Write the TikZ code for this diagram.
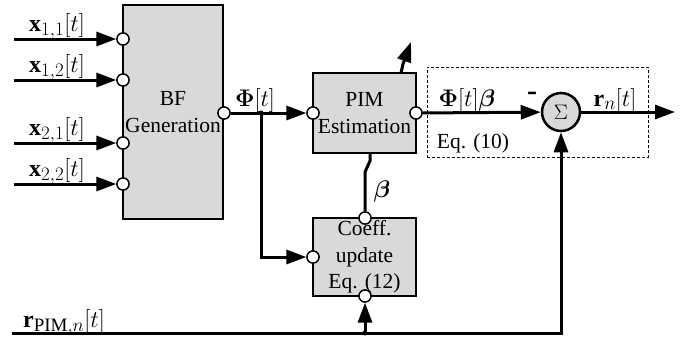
\documentclass[tikz,border=0pt]{standalone}
\usepackage{fix-cm}
\usepackage{amsmath}
\usepackage{bm}
\usepackage{fontspec}
\setmainfont{Liberation Serif}
\DeclareMathSizes{24}{24}{19}{15}
\usetikzlibrary{arrows.meta}
\definecolor{boxgray}{HTML}{D9D9D9}
\begin{document}
\begin{tikzpicture}[x=1pt,y=-1pt,
  block/.style={draw, line width=2.5pt, fill=boxgray, inner sep=0pt, align=center,
                font=\fontsize{21.5}{26.5}\selectfont},
  port/.style={circle, draw, line width=1.3pt, fill=white, minimum size=12pt, inner sep=0pt},
  wire/.style={line width=3pt},
  arr/.style={line width=3pt, -{Triangle[length=20pt,width=14pt]}},
  lbl/.style={inner sep=0pt, font=\fontsize{24}{26}\selectfont},
  txt/.style={inner sep=0pt, font=\fontsize{21.5}{24}\selectfont},
  jdot/.style={circle, fill, minimum size=5pt, inner sep=0pt}]
\useasboundingbox (0,0) rectangle (680,341);

% dashed box
\node[draw, dashed, line width=0.8pt, dash pattern=on 3pt off 2pt, minimum width=221pt,
      minimum height=90pt, inner sep=0pt] (eqbox) at (537.5,112) {};

% blocks
\node[block, minimum width=100pt, minimum height=214pt] (bf) at (173,112) {BF\\Generation};
\node[block, minimum width=103pt, minimum height=80pt] (pim) at (364.5,113) {PIM\\Estimation};
\node[block, minimum width=103pt, minimum height=78pt] (cf) at (364.5,257) {Coeff.\\update\\Eq. (12)};
\node[circle, draw, line width=2.5pt, fill=boxgray, minimum size=38pt, inner sep=0pt,
      font=\fontsize{21}{24}\selectfont] (sum) at (561,112) {$\Sigma$};

% ports
\node[port] (bfi1) at (123,39) {};
\node[port] (bfi2) at (123,80) {};
\node[port] (bfi3) at (123,143) {};
\node[port] (bfi4) at (123,184) {};
\node[port] (bfo) at (224,113) {};
\node[port] (pimi) at (313,113) {};
\node[port] (pimo) at (416,113) {};
\node[port] (cfi) at (313,257) {};
\node[port] (cft) at (365,218) {};
\node[port] (cfb) at (365,296) {};

% coordinates
\coordinate (in1) at (14,39);
\coordinate (in2) at (14,80);
\coordinate (in3) at (14,143);
\coordinate (in4) at (14,184);
\coordinate (jn) at (261,113);
\coordinate (out) at (675,112);
\coordinate (bl) at (12,333);
\coordinate (bj) at (365,333);
\coordinate (pb) at (370,154);
\coordinate (pb1) at (370,161);
\coordinate (pb2) at (365,172);
\coordinate (pt) at (401,73);
\coordinate (pt1) at (403,64);
\coordinate (adapt) at (411,42);

% connectors
\draw[arr] (in1) -- (bfi1);
\draw[arr] (in2) -- (bfi2);
\draw[arr] (in3) -- (bfi3);
\draw[arr] (in4) -- (bfi4);
\draw[arr] (bfo) -- (pimi);
\draw[arr] (jn) |- (cfi);
\node[jdot] (jd) at (jn) {};
\draw[arr] (pimo) -- (sum);
\draw[arr] (sum) -- (out);
\draw[wire] (pb) -- (pb1) -- (pb2) -- (cft);
\draw[arr] (pt) -- (pt1) -- (adapt);
\draw[arr] (bl) -| (sum);
\draw[arr] (bj) -- (cfb);
\node[jdot] (bjd) at (bj) {};

% redraw ports on top
\foreach \p in {bfi1,bfi2,bfi3,bfi4,bfo,pimi,pimo,cfi,cft,cfb}
  \node[port] at (\p) {};

% labels
\node[lbl] (l1) at (57,26) {$\mathbf{x}_{1,1}[t]$};
\node[lbl] (l2) at (57,67) {$\mathbf{x}_{1,2}[t]$};
\node[lbl] (l3) at (57,130) {$\mathbf{x}_{2,1}[t]$};
\node[lbl] (l4) at (57,171) {$\mathbf{x}_{2,2}[t]$};
\node[lbl] (lphi) at (255,100) {$\bm{\Phi}[t]$};
\node[lbl] (lbeta) at (382,191) {$\bm{\beta}$};
\node[lbl] (lphib) at (467,100) {$\bm{\Phi}[t]\bm{\beta}$};
\node[inner sep=0pt, font=\fontsize{30}{30}\selectfont\bfseries] (lminus) at (532,96) {-};
\node[lbl] (lr) at (615,100) {$\mathbf{r}_n[t]$};
\node[txt] (leq) at (473,143) {Eq. (10)};
\node[lbl] (lrp) at (64,322) {$\mathbf{r}_{\mathrm{PIM},n}[t]$};
\end{tikzpicture}
\end{document}
